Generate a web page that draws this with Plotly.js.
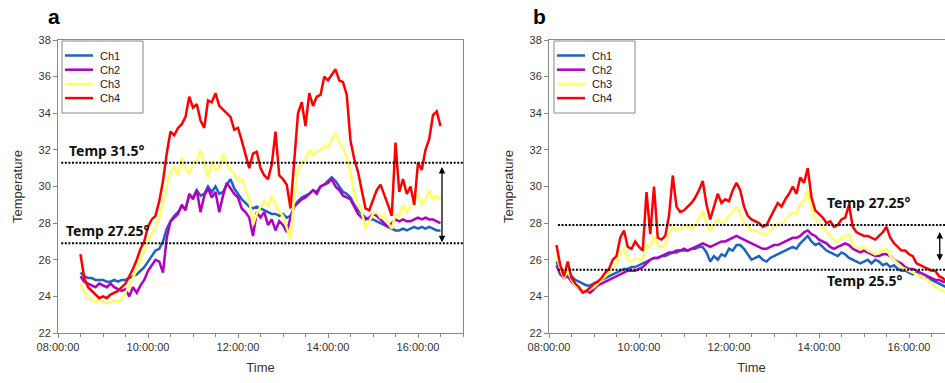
<!DOCTYPE html>
<html>
<head>
<meta charset="utf-8">
<script src="https://cdn.plot.ly/plotly-3.0.1.min.js"></script>
<style>
html,body{margin:0;padding:0;overflow:hidden;background:#fff;}
#chart{width:960px;height:383px;}
</style>
</head>
<body>
<div id="chart"></div>
<script>
// ---------- data ----------
const DAY = '2020-01-01';
const seriesNames = ['Ch1', 'Ch2', 'Ch3', 'Ch4'];
const seriesColors = ['#1f62c4', '#b000c4', '#ffff66', '#ff0000'];

const timesA = [
 '08:30','08:35','08:40','08:45','08:50','08:55',
 '09:00','09:05','09:10','09:15','09:20','09:25','09:30','09:35','09:40','09:45','09:50','09:55',
 '10:00','10:05','10:10','10:15','10:20','10:25','10:30','10:35','10:40','10:45','10:50','10:55',
 '11:00','11:05','11:10','11:15','11:20','11:25','11:30','11:35','11:40','11:45','11:50','11:55',
 '12:00','12:05','12:10','12:15','12:20','12:25','12:30','12:35','12:40','12:45','12:50','12:55',
 '13:00','13:05','13:10','13:15','13:20','13:25','13:30','13:35','13:40','13:45','13:50','13:55',
 '14:00','14:05','14:10','14:15','14:20','14:25','14:30','14:35','14:40','14:45','14:50','14:55',
 '15:00','15:05','15:10','15:15','15:20','15:25','15:30','15:35','15:40','15:45','15:50','15:55',
 '16:00','16:05','16:10','16:15','16:20','16:25','16:30'
];
const a_ch1 = [
 25.3,25.1,25.0,25.0,24.9,24.9,
 24.9,24.8,24.8,24.9,24.8,24.9,24.9,25.0,25.1,25.2,25.4,25.6,
 25.9,26.2,26.5,26.6,27.0,27.7,28.1,28.4,28.6,28.9,28.8,29.5,
 29.4,29.8,29.5,29.6,30.0,29.7,30.0,29.6,29.7,30.1,30.4,29.9,
 29.6,29.3,29.1,28.9,28.8,28.9,28.8,28.7,28.6,28.5,28.5,28.4,
 28.5,28.3,28.4,28.9,29.2,29.4,29.5,29.6,29.8,29.7,30.0,30.1,
 30.3,30.5,30.3,30.0,29.7,29.6,29.4,29.0,28.7,28.5,28.3,28.2,
 28.2,28.1,28.0,27.9,27.8,27.7,27.6,27.6,27.7,27.6,27.7,27.8,
 27.7,27.8,27.7,27.8,27.7,27.6,27.6
];
const a_ch2 = [
 25.1,24.8,24.7,24.6,24.5,24.7,
 24.6,24.5,24.7,24.5,24.4,24.3,24.4,24.0,24.5,24.2,24.6,24.9,
 25.4,25.7,26.0,25.9,25.3,27.2,28.1,28.3,28.5,29.0,28.7,29.6,
 29.3,29.8,28.6,29.5,29.9,29.4,29.7,28.6,29.5,30.2,29.9,29.6,
 29.4,28.8,28.6,28.3,27.3,28.6,28.3,28.6,27.9,28.2,27.6,28.1,
 27.9,27.5,28.3,28.9,29.1,29.3,29.4,29.6,29.8,29.6,30.0,30.1,
 30.2,30.4,30.0,29.8,29.5,29.4,29.3,28.9,28.5,28.3,28.2,28.3,
 28.5,28.4,28.2,28.0,27.8,28.0,28.2,28.1,28.2,28.1,28.1,28.2,
 28.3,28.2,28.3,28.2,28.2,28.1,28.0
];
const a_ch3 = [
 24.7,24.2,23.9,23.8,23.7,23.8,
 23.7,23.6,23.7,23.8,23.7,23.9,24.2,24.6,25.0,25.5,26.0,26.6,
 27.0,27.4,27.8,28.3,29.2,30.0,30.8,31.1,30.6,31.6,31.0,30.7,
 31.3,31.4,32.0,31.2,30.5,31.4,30.9,31.0,31.8,31.2,30.9,30.7,
 30.3,30.4,29.8,29.3,27.9,28.5,28.9,29.2,28.9,29.5,29.0,28.6,
 28.4,27.8,27.1,29.4,30.9,31.3,31.5,32.0,31.7,31.9,32.0,32.2,
 32.1,32.6,32.9,32.4,32.1,31.6,30.8,29.6,29.0,28.6,27.7,28.1,
 28.5,28.6,28.3,28.4,28.0,27.7,28.5,28.4,29.0,28.6,28.9,29.2,
 29.6,29.0,29.3,29.8,29.3,29.5,29.3
];
const a_ch4 = [
 26.3,25.0,24.5,24.3,24.1,23.9,
 24.0,23.9,24.1,24.2,24.3,24.5,24.7,25.1,25.5,26.0,26.6,27.0,
 27.8,28.2,28.4,29.2,30.3,31.8,33.0,32.8,33.2,33.4,33.8,34.9,
 34.3,34.5,33.6,33.2,34.7,34.6,35.1,34.4,34.2,34.0,33.8,33.1,
 33.2,32.5,31.7,31.0,31.8,31.9,31.0,30.6,30.4,31.2,33.0,30.6,
 30.4,30.1,28.8,31.5,34.0,34.6,33.3,35.1,34.4,34.9,35.0,36.0,
 35.8,36.1,36.4,35.8,35.7,35.0,32.5,31.5,30.8,29.8,28.8,28.7,
 29.3,29.8,30.1,29.6,29.0,28.4,32.4,29.7,30.4,29.6,30.0,29.0,
 31.3,30.9,32.0,32.6,33.9,34.1,33.3
];

const timesB = [
 '08:10','08:15','08:20','08:25','08:30','08:35','08:40','08:45','08:50','08:55',
 '09:00','09:05','09:10','09:15','09:20','09:25','09:30','09:35','09:40','09:45','09:50','09:55',
 '10:00','10:05','10:10','10:15','10:20','10:25','10:30','10:35','10:40','10:45','10:50','10:55',
 '11:00','11:05','11:10','11:15','11:20','11:25','11:30','11:35','11:40','11:45','11:50','11:55',
 '12:00','12:05','12:10','12:15','12:20','12:25','12:30','12:35','12:40','12:45','12:50','12:55',
 '13:00','13:05','13:10','13:15','13:20','13:25','13:30','13:35','13:40','13:45','13:50','13:55',
 '14:00','14:05','14:10','14:15','14:20','14:25','14:30','14:35','14:40','14:45','14:50','14:55',
 '15:00','15:05','15:10','15:15','15:20','15:25','15:30','15:35','15:40','15:45','15:50','15:55',
 '16:00','16:05','16:10','16:15','16:20','16:25','16:30','16:35','16:40','16:45','16:50'
];
const b_ch1 = [
 25.9,25.4,25.2,25.3,25.1,24.9,24.8,24.7,24.6,24.6,
 24.7,24.8,24.9,25.0,25.1,25.2,25.3,25.4,25.5,25.5,25.6,25.6,
 25.7,25.8,25.9,26.0,26.1,26.1,26.2,26.2,26.3,26.4,26.4,26.5,
 26.5,26.5,26.6,26.6,26.7,26.7,26.4,25.9,26.2,26.0,26.3,26.2,
 26.6,26.5,26.8,26.8,26.6,26.3,26.0,26.1,26.2,26.0,25.9,26.1,
 26.2,26.3,26.4,26.5,26.6,26.7,26.6,26.9,27.1,27.3,27.0,26.8,
 26.9,26.7,26.5,26.4,26.3,26.2,26.4,26.3,26.1,26.0,25.9,25.8,
 25.9,26.0,25.8,26.0,25.9,25.7,25.8,25.6,25.7,25.5,25.4,25.4,
 25.3,25.2,25.3,25.1,25.0,25.0,24.9,24.8,24.7,24.6,24.5
];
const b_ch2 = [
 25.7,25.2,25.0,25.1,24.8,24.6,24.4,24.3,24.3,24.2,
 24.4,24.6,24.7,24.8,24.9,25.0,25.1,25.2,25.3,25.4,25.4,25.4,
 25.5,25.6,25.8,26.0,26.1,26.1,26.2,26.3,26.4,26.4,26.5,26.5,
 26.6,26.5,26.6,26.7,26.8,26.9,26.8,26.7,26.8,26.9,27.0,27.0,
 27.1,27.2,27.3,27.2,27.1,27.0,26.9,26.8,26.7,26.6,26.6,26.7,
 26.8,26.8,26.9,27.0,27.1,27.2,27.2,27.3,27.5,27.6,27.4,27.3,
 27.1,27.0,26.9,26.7,26.6,26.7,26.8,26.9,26.8,26.6,26.5,26.4,
 26.5,26.4,26.3,26.2,26.2,26.3,26.3,26.2,26.0,25.9,25.8,25.6,
 25.5,25.5,25.4,25.3,25.2,25.1,25.0,24.9,24.9,24.8,24.8
];
const b_ch3 = [
 26.3,25.5,25.0,25.4,24.9,24.6,24.4,24.3,24.3,24.4,
 24.5,24.7,24.9,25.1,25.3,25.5,25.8,26.4,26.6,26.0,25.9,26.1,
 26.0,26.0,26.8,26.7,27.3,26.8,26.7,26.8,27.4,27.8,27.6,27.7,
 27.8,27.9,27.7,27.9,28.2,28.7,28.0,27.6,27.9,28.2,28.0,28.1,
 28.4,28.6,28.9,28.4,28.0,27.8,27.6,27.6,27.5,27.4,27.4,27.6,
 27.8,28.0,27.9,28.2,28.4,28.6,28.5,29.1,29.2,29.8,28.8,28.2,
 28.0,27.8,27.5,27.3,27.1,27.0,27.2,27.3,27.4,26.8,26.7,26.6,
 26.7,26.5,26.4,26.3,26.4,26.5,26.6,26.2,26.0,25.8,25.6,25.5,
 25.4,25.3,25.2,25.1,25.0,24.9,24.7,24.5,24.4,24.3,24.2
];
const b_ch4 = [
 26.8,25.7,25.1,25.9,25.0,24.7,24.5,24.2,24.3,24.5,
 24.7,24.8,25.0,25.3,25.5,26.0,26.2,27.2,27.6,26.7,26.6,27.0,
 26.7,26.5,29.7,27.4,30.0,27.2,27.1,27.3,28.4,30.6,28.9,28.6,
 28.7,28.9,29.1,29.4,29.8,30.3,29.0,28.2,28.9,29.6,29.1,29.3,
 29.2,29.8,30.2,29.8,28.9,28.4,28.2,28.1,28.0,27.8,27.9,28.3,
 28.7,29.1,28.9,29.3,29.6,30.0,29.6,30.5,30.2,31.0,29.4,28.7,
 28.5,28.3,28.0,28.1,27.8,27.9,28.2,28.3,29.0,27.8,27.5,27.4,
 27.3,27.3,27.2,27.1,27.3,27.5,27.8,27.2,26.9,26.7,26.5,26.5,
 26.3,26.2,25.8,25.7,25.6,25.5,25.4,25.4,25.1,25.0,24.8
];

// threshold lines and their labels
const thrA = [31.3, 26.9];
const thrA_labels = ['Temp 31.5°', 'Temp 27.25°'];
const thrB = [27.9, 25.45];
const thrB_labels = ['Temp 27.25°', 'Temp 25.5°'];

// ---------- build ----------
const W = 960, H = 383, MT = 40, MB = 50;
const PH = H - MT - MB;
const px2x = p => p / W;              // page px -> paper x
const py2y = p => (H - MB - p) / PH;  // page px -> paper y
const toX = t => DAY + ' ' + t;
const seriesA = [a_ch1, a_ch2, a_ch3, a_ch4];
const seriesB = [b_ch1, b_ch2, b_ch3, b_ch4];
const traces = [];
seriesA.forEach((ys, i) => traces.push({
  type: 'scatter', mode: 'lines', name: seriesNames[i], showlegend: false,
  x: timesA.map(toX), y: ys, xaxis: 'x', yaxis: 'y',
  line: {color: seriesColors[i], width: 2.5}
}));
seriesB.forEach((ys, i) => traces.push({
  type: 'scatter', mode: 'lines', name: seriesNames[i], showlegend: false,
  x: timesB.map(toX), y: ys, xaxis: 'x2', yaxis: 'y2',
  line: {color: seriesColors[i], width: 2.5}
}));

const FONT = 'Liberation Sans, Arial, sans-serif';
const tickFont = {family: FONT, size: 11, color: '#333'};
function xax(domain, anchor) {
  return {
    domain: domain, anchor: anchor, type: 'date',
    range: [DAY + ' 08:00', DAY + ' 17:00'],
    tick0: DAY + ' 08:00', dtick: 7200000, tickformat: '%H:%M:%S',
    ticks: 'outside', ticklen: 4, tickcolor: '#888',
    minor: {dtick: 1800000, tick0: DAY + ' 08:00', ticks: 'outside', ticklen: 3, tickcolor: '#888'},
    showline: true, linecolor: '#8a8a8a', linewidth: 1, mirror: true,
    showgrid: false, zeroline: false, tickfont: tickFont,
    title: {text: 'Time', font: {family: FONT, size: 13, color: '#333'}, standoff: 10}
  };
}
function yax(anchor) {
  return {
    anchor: anchor, range: [22, 38], dtick: 2,
    ticks: 'outside', ticklen: 4, tickcolor: '#888',
    showline: true, linecolor: '#8a8a8a', linewidth: 1, mirror: true,
    showgrid: false, zeroline: false, tickfont: tickFont,
    title: {text: 'Temperature', font: {family: FONT, size: 13, color: '#333'}, standoff: 12}
  };
}

const shapes = [];
thrA.forEach(v => shapes.push({type: 'line', xref: 'x domain', yref: 'y', x0: 0.008, x1: 1, y0: v, y1: v,
  line: {color: '#000', width: 2, dash: '2px,1.6px'}}));
thrB.forEach(v => shapes.push({type: 'line', xref: 'x2 domain', yref: 'y2', x0: 0.022, x1: 1, y0: v, y1: v,
  line: {color: '#000', width: 2, dash: '2px,1.6px'}}));

const labelFont = {family: 'Noto Sans, Open Sans, sans-serif', size: 14, color: '#111'};
const annotations = [
  {text: '<b>a</b>', xref: 'paper', yref: 'paper', x: px2x(46), y: py2y(17), xanchor: 'left', yanchor: 'middle',
   showarrow: false, font: {family: FONT, size: 21, color: '#000'}},
  {text: '<b>b</b>', xref: 'paper', yref: 'paper', x: px2x(531), y: py2y(17), xanchor: 'left', yanchor: 'middle',
   showarrow: false, font: {family: FONT, size: 21, color: '#000'}},
  {text: '<b>' + thrA_labels[0] + '</b>', xref: 'x', yref: 'y', x: DAY + ' 08:12', y: 31.95, xanchor: 'left', yanchor: 'middle', showarrow: false, font: labelFont},
  {text: '<b>' + thrA_labels[1] + '</b>', xref: 'x', yref: 'y', x: DAY + ' 08:08', y: 27.6, xanchor: 'left', yanchor: 'middle', showarrow: false, font: labelFont},
  {text: '<b>' + thrB_labels[0] + '</b>', xref: 'x2', yref: 'y2', x: DAY + ' 14:08', y: 29.15, xanchor: 'left', yanchor: 'middle', showarrow: false, font: labelFont},
  {text: '<b>' + thrB_labels[1] + '</b>', xref: 'x2', yref: 'y2', x: DAY + ' 14:08', y: 24.85, xanchor: 'left', yanchor: 'middle', showarrow: false, font: labelFont},
  {text: '', xref: 'x', yref: 'y', axref: 'x', ayref: 'y', x: DAY + ' 16:32', y: 26.95, ax: DAY + ' 16:32', ay: 31.15,
   showarrow: true, arrowside: 'end+start', arrowhead: 2, arrowsize: 1, arrowwidth: 1.3, arrowcolor: '#000', standoff: 0, startstandoff: 0},
  {text: '', xref: 'x2', yref: 'y2', axref: 'x2', ayref: 'y2', x: DAY + ' 16:41', y: 25.95, ax: DAY + ' 16:41', ay: 27.6,
   showarrow: true, arrowside: 'end+start', arrowhead: 2, arrowsize: 1, arrowwidth: 1.3, arrowcolor: '#000', standoff: 0, startstandoff: 0}
];

// compact legend boxes (Excel-style), one per panel
[62, 554].forEach(left => {
  shapes.push({type: 'rect', xref: 'paper', yref: 'paper',
    x0: px2x(left), x1: px2x(left + 81), y0: py2y(113), y1: py2y(41),
    line: {color: '#888', width: 1}, fillcolor: '#fff', layer: 'above'});
  seriesNames.forEach((nm, i) => {
    const yy = 55.5 + i * 14.2;
    shapes.push({type: 'line', xref: 'paper', yref: 'paper',
      x0: px2x(left + 3), x1: px2x(left + 31), y0: py2y(yy), y1: py2y(yy),
      line: {color: seriesColors[i], width: 2.5}, layer: 'above'});
    annotations.push({text: nm, xref: 'paper', yref: 'paper', x: px2x(left + 36), y: py2y(yy),
      xanchor: 'left', yanchor: 'middle', showarrow: false,
      font: {family: FONT, size: 11, color: '#222'}});
  });
});

const layout = {
  width: W, height: H,
  margin: {l: 0, r: 0, t: MT, b: MB},
  paper_bgcolor: '#fff', plot_bgcolor: '#fff',
  showlegend: false,
  xaxis: xax([58 / W, 463 / W], 'y'),
  yaxis: yax('x'),
  xaxis2: xax([549 / W, 954 / W], 'y2'),
  yaxis2: yax('x2'),
  shapes: shapes,
  annotations: annotations
};

Plotly.newPlot('chart', traces, layout, {staticPlot: true, displayModeBar: false});
</script>
</body>
</html>
